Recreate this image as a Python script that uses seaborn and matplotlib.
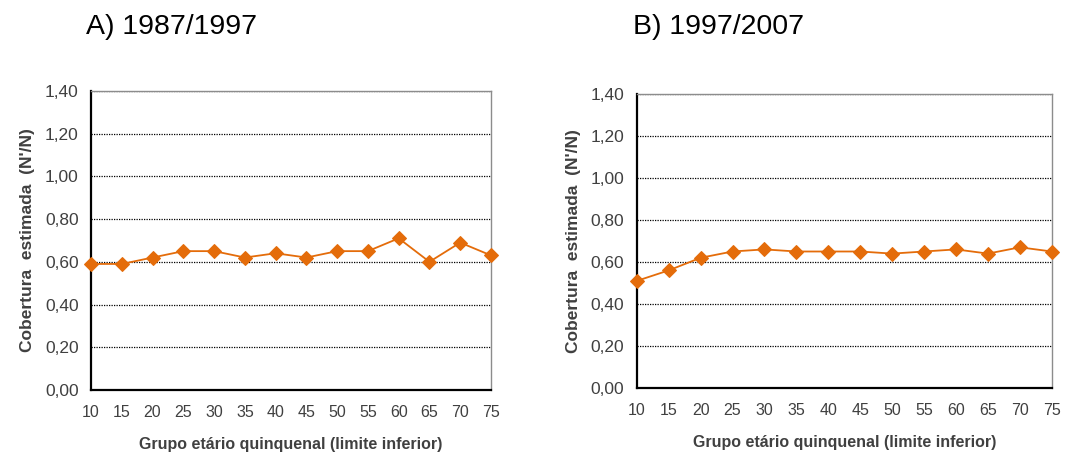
import pandas as pd
import matplotlib.pyplot as plt
import seaborn as sns

# grupos etarios (limite inferior)
idades = [10, 15, 20, 25, 30, 35, 40, 45, 50, 55, 60, 65, 70, 75]
cobertura_87_97 = [0.59, 0.59, 0.62, 0.65, 0.65, 0.62, 0.64, 0.62, 0.65, 0.65, 0.71, 0.60, 0.69, 0.63]
cobertura_97_07 = [0.51, 0.56, 0.62, 0.65, 0.66, 0.65, 0.65, 0.65, 0.64, 0.65, 0.66, 0.64, 0.67, 0.65]
titulos = ["A) 1987/1997", "B) 1997/2007"]
yticks = [0.0, 0.2, 0.4, 0.6, 0.8, 1.0, 1.2, 1.4]

LARANJA = "#E46C0A"
CINZA = "#404040"

sns.set_style("white")
plt.rcParams["font.family"] = ["Liberation Sans", "DejaVu Sans"]

fig = plt.figure(figsize=(10.81, 4.58), dpi=100)
ax_a = fig.add_axes([0.0842, 0.1485, 0.370, 0.653])
ax_b = fig.add_axes([0.589, 0.1528, 0.384, 0.642])

painel = [(ax_a, cobertura_87_97, titulos[0], 0.080),
          (ax_b, cobertura_97_07, titulos[1], 0.586)]

for ax, valores, titulo, xt in painel:
    df = pd.DataFrame({"idade": idades, "cobertura": valores})
    sns.lineplot(data=df, x="idade", y="cobertura", ax=ax, color=LARANJA,
                 marker="D", markersize=7, markeredgecolor=LARANJA,
                 linewidth=1.3, clip_on=False, zorder=5)

    ax.set_xlim(idades[0], idades[-1])
    ax.set_ylim(0, 1.4)
    ax.set_xticks(idades)
    ax.set_yticks(yticks)
    ax.set_yticklabels([f"{v:.2f}".replace(".", ",") for v in yticks])
    ax.tick_params(axis="both", direction="out", length=5, width=1.2,
                   color="black", labelcolor=CINZA)
    ax.tick_params(axis="y", labelsize=12.5, pad=4)
    ax.tick_params(axis="x", labelsize=11.5, pad=6)

    ax.yaxis.grid(True, linestyle=(0, (1, 1)), color="black", linewidth=0.9)
    ax.set_axisbelow(True)

    for s in ["left", "bottom"]:
        ax.spines[s].set_color("black")
        ax.spines[s].set_linewidth(1.6)
    for s in ["top", "right"]:
        ax.spines[s].set_color("#8c8c8c")
        ax.spines[s].set_linewidth(1.0)

    ax.set_xlabel("Grupo etário quinquenal (limite inferior)", fontsize=11.5,
                  fontweight="bold", color=CINZA, labelpad=12)
    ax.set_ylabel("Cobertura  estimada  (N'/N)", fontsize=12.5,
                  fontweight="bold", color=CINZA, labelpad=7)

    fig.text(xt, 0.942, titulo, fontsize=20.5, color="black", va="center", ha="left")

fig.savefig("out.png", dpi=100)
plt.close(fig)
